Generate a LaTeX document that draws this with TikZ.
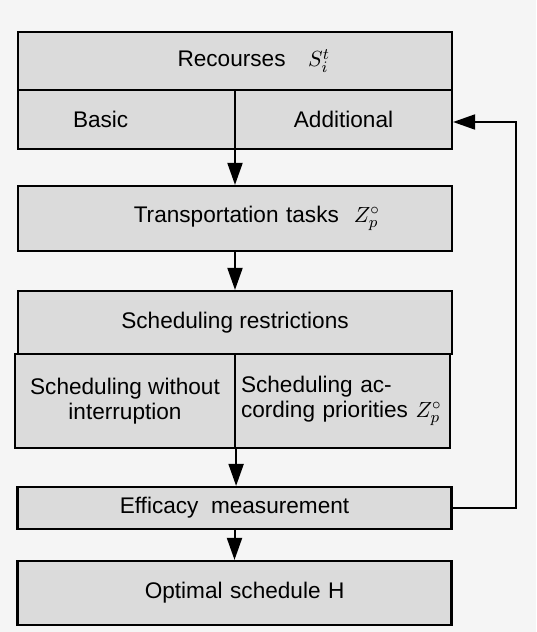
\documentclass[tikz,border=0pt]{standalone}
\usepackage{fontspec}
\setmainfont{Liberation Sans}
\usetikzlibrary{arrows.meta,positioning}

\begin{document}
\begin{tikzpicture}[x=0.5pt,y=-0.5pt,
  blk/.style={draw=black,line width=1.1pt,fill=black!14,inner sep=0pt,
              minimum width=217pt,align=center,
              font=\fontsize{11.3}{12.5}\selectfont},
  halfblk/.style={blk,minimum width=108.5pt},
  arr/.style={-{Triangle[length=11pt,width=7.5pt]},line width=1pt,draw=black}
]
\fill[black!4] (0,0) rectangle (536,632);
\useasboundingbox (0,0) rectangle (536,632);

\node[blk,minimum height=29pt,inner xsep=61pt,text width=95pt,align=right]
  (res) at (235,61) {Recourses\quad $S_i^t$};
\node[halfblk,minimum height=29.5pt,inner xsep=27.5pt,text width=53.5pt,
      align=left] (basic) at (126.5,119.5) {Basic};
\node[halfblk,minimum height=29.5pt] (addl) at (343.5,119.5) {Additional};

\node[blk,minimum height=32.5pt,inner xsep=36pt,text width=145pt,align=right]
  (trans) at (235,218.5) {Transportation tasks~~$Z_p^\circ$};

\node[blk,minimum height=31.5pt] (restr) at (235,322.5)
  {Scheduling restrictions};
\node[blk,minimum width=110pt,minimum height=47pt] (noint) at (125,401)
  {Scheduling without\\interruption};
\node[blk,minimum width=107.5pt,minimum height=47pt,inner xsep=3pt,
      text width=101.5pt,align=left] (prio) at (342.5,401)
  {Scheduling ac-\\cording priorities~$Z_p^\circ$};

\node[blk,minimum height=21pt] (eff) at (234.5,508)
  {Efficacy\ \ measurement};
\node[blk,minimum height=32pt,inner xsep=53.5pt,text width=110pt,align=right]
  (opt) at (234.5,593) {Optimal schedule H};

\coordinate (fb) at (516,122);

\draw[arr] (res.south) -- (trans.north);
\draw[arr] (trans.south) -- (restr.north);
\draw[arr] (noint.south east) -- (noint.south east |- eff.north);
\draw[arr] (eff.south) -- (opt.north);
\draw[arr] (eff.east) -| (fb) -- (fb -| addl.east);
\end{tikzpicture}
\end{document}
